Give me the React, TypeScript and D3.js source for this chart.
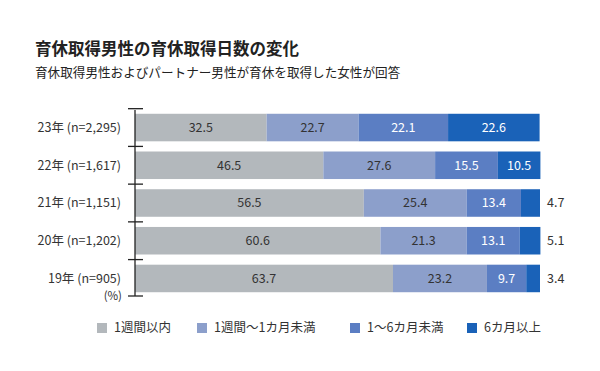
import { useRef, useEffect } from 'react';
import * as d3 from 'd3';

// data
const years = ['23年 (n=2,295)', '22年 (n=1,617)', '21年 (n=1,151)', '20年 (n=1,202)', '19年 (n=905)'];
const seriesNames = ['1週間以内', '1週間〜1カ月未満', '1〜6カ月未満', '6カ月以上'];
const within1w = [32.5, 46.5, 56.5, 60.6, 63.7];
const w1toM1 = [22.7, 27.6, 25.4, 21.3, 23.2];
const m1toM6 = [22.1, 15.5, 13.4, 13.1, 9.7];
const over6m = [22.6, 10.5, 4.7, 5.1, 3.4];
const colors = ['#b3b8bc', '#8c9fcb', '#5b7ec3', '#1a62b8'];
const textColors = ['#333', '#333', '#fff', '#fff'];

function App() {
  const svgRef = useRef<SVGSVGElement>(null);

  useEffect(() => {
    const width = 600;
    const height = 371;
    const font = '"Noto Sans CJK JP", "Noto Sans", sans-serif';

    const svg = d3.select(svgRef.current)
      .attr('width', width)
      .attr('height', height)
      .style('display', 'block')
      .style('position', 'absolute')
      .style('left', '0px')
      .style('top', '0px')
      .style('font-family', font);
    svg.selectAll('*').remove();

    svg.append('rect').attr('width', width).attr('height', height).attr('fill', '#fff');

    // titles
    svg.append('text')
      .attr('x', 35).attr('y', 55)
      .attr('font-size', '16.5px').attr('font-weight', 700).attr('fill', '#222')
      .text('育休取得男性の育休取得日数の変化');
    svg.append('text')
      .attr('x', 35).attr('y', 77)
      .attr('font-size', '12.6px').attr('fill', '#222')
      .text('育休取得男性およびパートナー男性が育休を取得した女性が回答');

    const x = d3.scaleLinear().domain([0, 100]).range([135, 540]);
    const y = d3.scaleBand<string>().domain(years).range([110, 296]).paddingInner(0.27).paddingOuter(0.1);

    const series = [within1w, w1toM1, m1toM6, over6m];
    const table = years.map((yr, i) => {
      const row: any = { year: yr };
      seriesNames.forEach((s, j) => { row[s] = series[j][i]; });
      return row;
    });
    const stacked = d3.stack<any>().keys(seriesNames)(table);

    const g = svg.append('g');
    stacked.forEach((layer, j) => {
      const lg = g.append('g');
      lg.selectAll('rect')
        .data(layer)
        .join('rect')
        .attr('x', d => x(d[0]))
        .attr('y', d => y(d.data.year)!)
        .attr('width', d => x(d[1]) - x(d[0]))
        .attr('height', y.bandwidth())
        .attr('fill', colors[j]);
      lg.selectAll('text')
        .data(layer)
        .join('text')
        .attr('x', d => {
          const v = d[1] - d[0];
          return v < 6 ? x(100) + 7 : (x(d[0]) + x(d[1])) / 2;
        })
        .attr('y', d => y(d.data.year)! + y.bandwidth() / 2)
        .attr('dy', '0.35em')
        .attr('text-anchor', d => (d[1] - d[0] < 6 ? 'start' : 'middle'))
        .attr('font-size', '12.5px')
        .attr('fill', d => (d[1] - d[0] < 6 ? '#333' : textColors[j]))
        .text(d => (d[1] - d[0]).toFixed(1));
    });

    // axis line with ticks at band boundaries
    const ax = svg.append('g').attr('stroke', '#222').attr('stroke-width', 1.3);
    const top = 110;
    const bottom = 296;
    ax.append('line').attr('x1', 135).attr('x2', 135).attr('y1', top).attr('y2', bottom);
    const tickYs = years.map(yr => y(yr)! - (y.step() - y.bandwidth()) / 2).concat([bottom]);
    ax.selectAll('line.tick')
      .data(tickYs)
      .join('line')
      .attr('class', 'tick')
      .attr('x1', 128).attr('x2', 143)
      .attr('y1', d => d).attr('y2', d => d);

    // category labels
    svg.append('g')
      .selectAll('text')
      .data(years)
      .join('text')
      .attr('x', 121)
      .attr('y', d => y(d)! + y.bandwidth() / 2)
      .attr('dy', '0.35em')
      .attr('text-anchor', 'end')
      .attr('font-size', '12.5px')
      .attr('fill', '#333')
      .text(d => d);
    svg.append('text')
      .attr('x', 122).attr('y', bottom).attr('dy', '0.35em')
      .attr('text-anchor', 'end').attr('font-size', '11.5px').attr('fill', '#333')
      .text('(%)');

    // legend
    const legendX = [97, 197, 350, 467];
    const lgd = svg.append('g');
    seriesNames.forEach((s, i) => {
      lgd.append('rect')
        .attr('x', legendX[i]).attr('y', 323)
        .attr('width', 10).attr('height', 10)
        .attr('fill', colors[i]);
      lgd.append('text')
        .attr('x', legendX[i] + 17).attr('y', 328).attr('dy', '0.35em')
        .attr('font-size', '12.5px').attr('fill', '#333')
        .text(s);
    });
  }, []);

  return <svg ref={svgRef} />;
}

export default App;
